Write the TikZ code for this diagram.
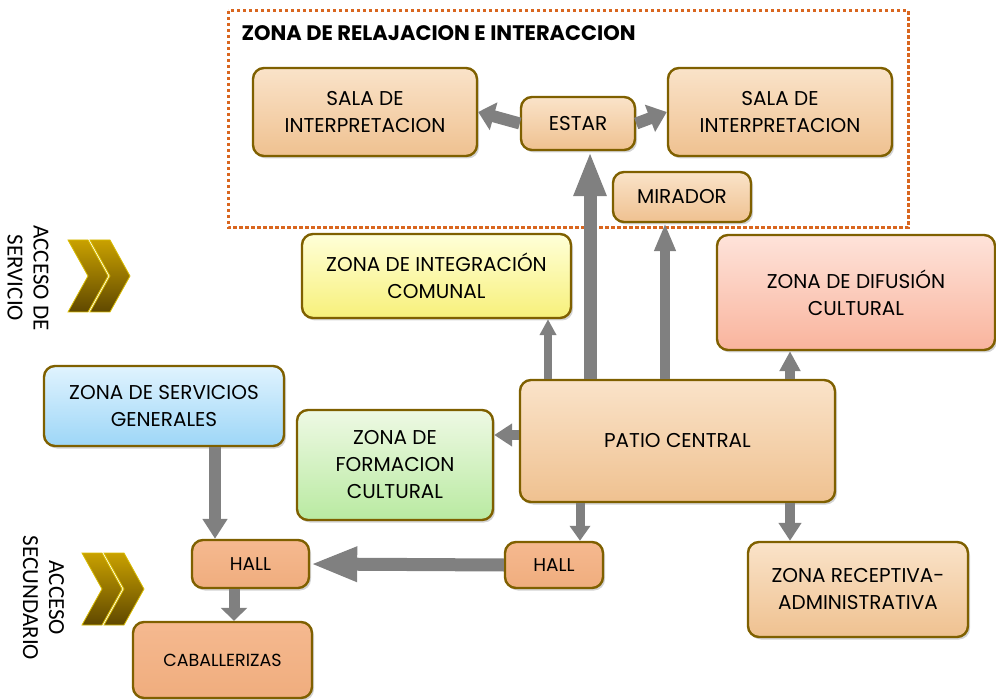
\documentclass[tikz,border=0pt]{standalone}
\usepackage{fontspec}
\setmainfont{Poppins}
\newfontfamily\accfont{Carlito}
\usetikzlibrary{arrows.meta,shadows}

\definecolor{borde}{HTML}{7F6000}
\definecolor{gris}{HTML}{808080}
\definecolor{punteado}{HTML}{D9661F}
\definecolor{oro}{HTML}{BF9000}
\definecolor{salmon}{HTML}{F4B183}
\definecolor{tanarriba}{HTML}{FAE3C9}
\definecolor{tanabajo}{HTML}{EFC190}
\definecolor{amarilloarriba}{HTML}{FFFFD8}
\definecolor{amarilloabajo}{HTML}{F7F07A}
\definecolor{rosaarriba}{HTML}{FEE3DA}
\definecolor{rosaabajo}{HTML}{F9B49D}
\definecolor{azularriba}{HTML}{E0F3FE}
\definecolor{azulabajo}{HTML}{9DD6F7}
\definecolor{verdearriba}{HTML}{EEF9E4}
\definecolor{verdeabajo}{HTML}{B9EAA1}

\begin{document}
\begin{tikzpicture}[x=1pt,y=-1pt,
        caja/.style={rectangle,rounded corners=11pt,draw=borde,line width=2.4pt,
            align=center,inner sep=0pt,text=black,
            font=\fontsize{20}{27}\selectfont,
            drop shadow={shadow xshift=2pt,shadow yshift=-2.5pt,opacity=0.35}},
        tan/.style={top color=tanarriba,bottom color=tanabajo},
        hall/.style={top color=salmon!90!white,bottom color=salmon!92!brown},
        flecha/.style n args={3}{draw=gris,line width=#1,-{Triangle[width=#2,length=#3]}},
        acceso/.style={rotate=-90,align=center,font=\accfont\fontsize{23}{26}\selectfont},
        chevron/.style={top color=oro!85!yellow,bottom color=oro!50!black,draw=oro!60!yellow,line width=0.8pt}]
    \useasboundingbox (0,0) rectangle (996,700);

    % Zona de relajacion e interaccion
    \draw[punteado,line width=3pt,dash pattern=on 3.5pt off 2.5pt] (228,11) rectangle (908,228);
    \node[anchor=west,font=\bfseries\fontsize{21}{24}\selectfont] (titulo) at (238,33) {ZONA DE RELAJACION E INTERACCION};

    \node[caja,tan,minimum width=224pt,minimum height=88pt] (salaa) at (365,112) {SALA DE\\INTERPRETACION};
    \node[caja,tan,minimum width=114pt,minimum height=53pt] (estar) at (578,123.5) {ESTAR};
    \node[caja,tan,minimum width=224pt,minimum height=88pt] (salab) at (780,112) {SALA DE\\INTERPRETACION};
    \node[caja,tan,minimum width=138pt,minimum height=50pt] (mirador) at (682,197) {MIRADOR};

    % Zonas
    \node[caja,top color=amarilloarriba,bottom color=amarilloabajo,minimum width=269pt,minimum height=84pt] (integ) at (436.5,276) {ZONA DE INTEGRACIÓN\\COMUNAL};
    \node[caja,top color=rosaarriba,bottom color=rosaabajo,minimum width=278pt,minimum height=115pt] (difusion) at (856,292.5) {ZONA DE DIFUSIÓN\\CULTURAL};
    \node[caja,top color=azularriba,bottom color=azulabajo,minimum width=240pt,minimum height=80pt] (servicios) at (164,406) {ZONA DE SERVICIOS\\GENERALES};
    \node[caja,top color=verdearriba,bottom color=verdeabajo,minimum width=196pt,minimum height=110pt] (formacion) at (395,465) {ZONA DE\\FORMACION\\CULTURAL};
    \node[caja,tan,minimum width=315pt,minimum height=122pt] (patio) at (677.5,441) {PATIO CENTRAL};
    \node[caja,tan,minimum width=220pt,minimum height=95pt] (receptiva) at (858,589.5) {ZONA RECEPTIVA-\\ADMINISTRATIVA};

    % Halls
    \node[caja,hall,minimum width=117pt,minimum height=48pt,font=\fontsize{18.5}{20}\selectfont] (halla) at (250.5,564) {HALL};
    \node[caja,hall,minimum width=98pt,minimum height=46pt,font=\fontsize{18.5}{20}\selectfont] (hallb) at (554,565) {HALL};
    \node[caja,hall,minimum width=179pt,minimum height=76pt,font=\fontsize{17.5}{20}\selectfont] (caballerizas) at (222.5,660) {\raisebox{-8pt}{CABALLERIZAS}};

    % Accesos
    \node[acceso] (accserv) at (28,278) {ACCESO DE\\SERVICIO};
    \node[acceso] (accsec) at (43.5,598) {ACCESO\\SECUNDARIO};
    \draw[chevron] (68,240) -- (88,240) -- (108,276) -- (88,312) -- (68,312) -- (88,276) -- cycle;
    \draw[chevron] (90,240) -- (110,240) -- (130,276) -- (110,312) -- (90,312) -- (110,276) -- cycle;
    \draw[chevron] (82,553) -- (102,553) -- (122,589) -- (102,625) -- (82,625) -- (102,589) -- cycle;
    \draw[chevron] (104,553) -- (124,553) -- (144,589) -- (124,625) -- (104,625) -- (124,589) -- cycle;

    % Flechas
    \draw[flecha={12pt}{28pt}{16pt}] (estar.west) -- (salaa.east);
    \draw[flecha={12pt}{28pt}{18pt}] (estar.east) -- (salab.west);
    \draw[flecha={13pt}{30pt}{45pt}] ([xshift=12pt]estar.south |- patio.north) -- ([xshift=12pt]estar.south);
    \draw[flecha={10pt}{20pt}{28pt}] ([xshift=-17pt]mirador.south |- patio.north) -- ([xshift=-17pt]mirador.south);
    \draw[flecha={8pt}{16pt}{16pt}] ([xshift=111.5pt]integ.south |- patio.north) -- ([xshift=111.5pt]integ.south);
    \draw[flecha={10pt}{20pt}{20pt}] ([xshift=-66pt]difusion.south |- patio.north) -- ([xshift=-66pt]difusion.south);
    \draw[flecha={10pt}{22pt}{18pt}] ([yshift=30pt]formacion.east -| patio.west) -- ([yshift=30pt]formacion.east);
    \draw[flecha={9pt}{20pt}{15pt}] ([xshift=26pt]hallb.north |- patio.south) -- ([xshift=26pt]hallb.north);
    \draw[flecha={10pt}{22pt}{18pt}] ([xshift=-68pt]receptiva.north |- patio.south) -- ([xshift=-68pt]receptiva.north);
    \draw[flecha={12pt}{24pt}{20pt}] ([xshift=-35.5pt]halla.north |- servicios.south) -- ([xshift=-35.5pt]halla.north);
    \draw[flecha={13pt}{32pt}{47pt}] (hallb.west) -- (halla.east);
    \draw[flecha={11pt}{26pt}{13pt}] ([xshift=-16.5pt]halla.south) -- ([xshift=-16.5pt]halla.south |- caballerizas.north);
\end{tikzpicture}
\end{document}
